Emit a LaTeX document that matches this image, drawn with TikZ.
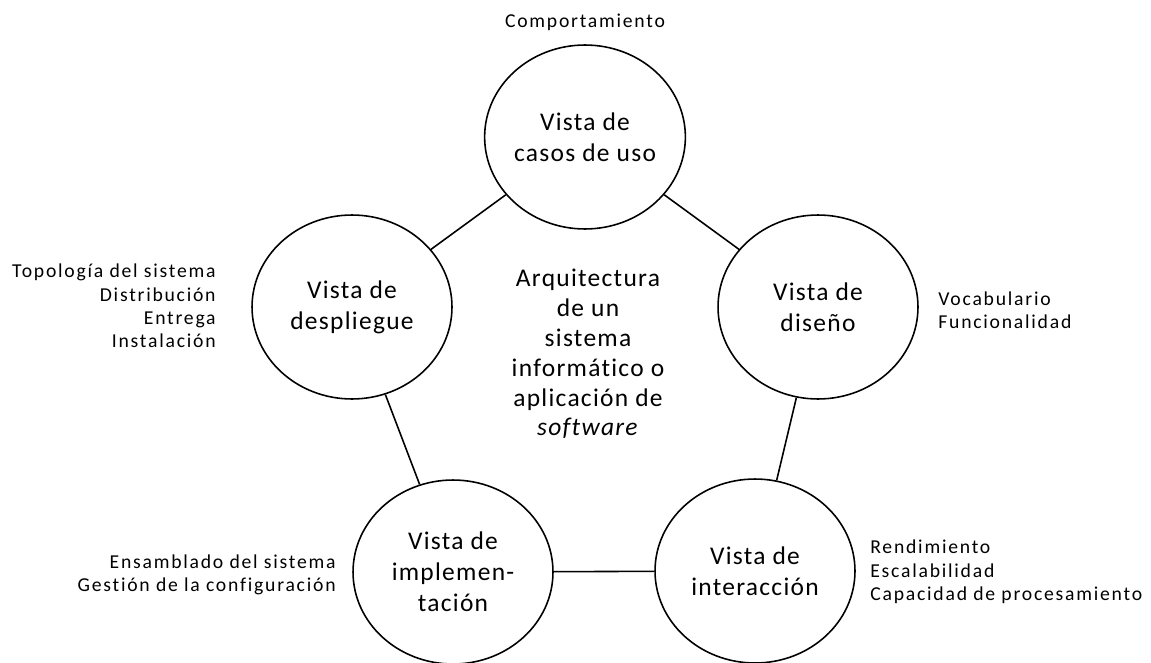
\documentclass[tikz,border=0pt]{standalone}
\usepackage{fontspec}
\setmainfont{Carlito}
\newfontfamily\vistafont[LetterSpace=5,Ligatures=NoCommon]{Carlito}
\newfontfamily\notafont[LetterSpace=9,Ligatures=NoCommon]{Carlito}
\usetikzlibrary{shapes.geometric}

\begin{document}
\begin{tikzpicture}[x=0.02cm,y=-0.02cm,
  vista/.style={ellipse,draw,line width=0.9pt,minimum width=4cm,minimum height=3.68cm,inner sep=0pt,align=center,font=\vistafont\fontsize{14.5}{17.6}\selectfont},
  nota/.style={inner sep=0pt,font=\notafont\fontsize{11.2}{13.3}\selectfont}]

%bounding box of the picture
\useasboundingbox (0,0) rectangle (1151,662);

%the five views
\node[vista] (casos) at (585,137) {Vista de\\casos de uso};
\node[vista] (despliegue) at (352,307) {Vista de\\despliegue};
\node[vista] (diseno) at (818,307) {Vista de\\diseño};
\node[vista] (implementacion) at (453,572) {Vista de\\implemen-\\tación};
\node[vista] (interaccion) at (755,571) {Vista de\\interacción};

%text in the middle
\node[align=center,inner sep=0pt,font=\vistafont\fontsize{14.5}{17}\selectfont] (arquitectura) at (588,354)
  {Arquitectura\\de un\\sistema\\informático o\\aplicación de\\\textit{software}};

%notes next to each view
\node[nota] (comportamiento) at (585,22) {Comportamiento};
\node[nota,anchor=east,align=right] (topologia) at (216,306) {Topología del sistema\\Distribución\\Entrega\\Instalación};
\node[nota,anchor=west,align=left] (vocabulario) at (938,310) {Vocabulario\\Funcionalidad};
\node[nota,anchor=east,align=right] (ensamblado) at (336,575) {Ensamblado del sistema\\Gestión de la configuración};
\node[nota,anchor=west,align=left] (rendimiento) at (870,572) {Rendimiento\\Escalabilidad\\Capacidad de procesamiento};

%connecting the views
\draw[line width=0.9pt] (despliegue) -- (casos) -- (diseno) -- (interaccion) -- (implementacion) -- (despliegue);
\end{tikzpicture}
\end{document}
